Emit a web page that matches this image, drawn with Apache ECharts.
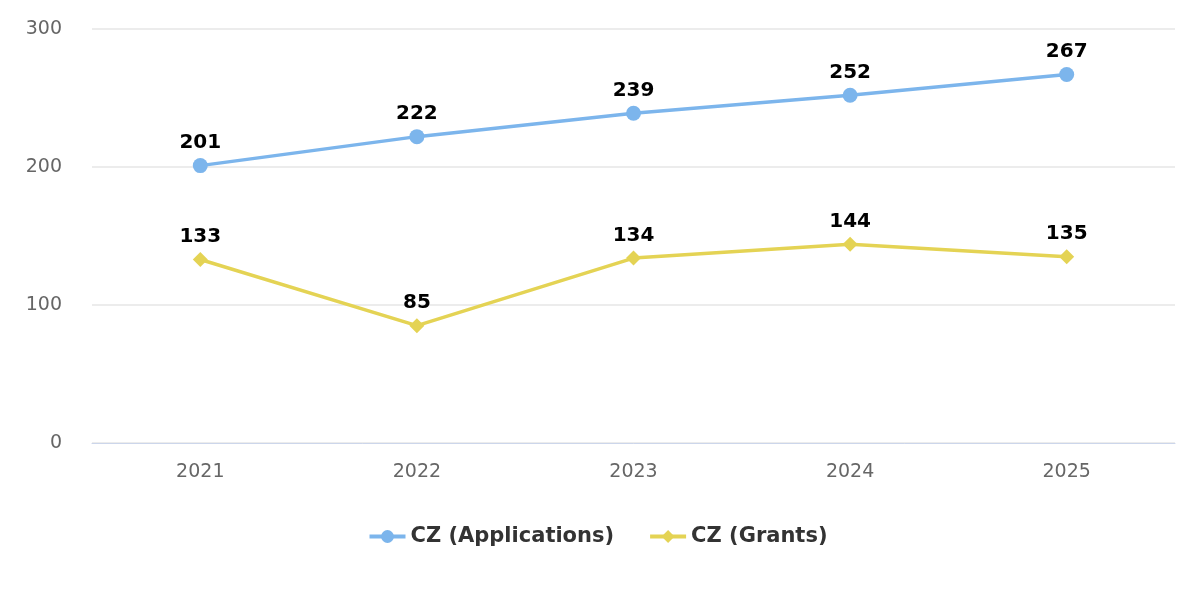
<!DOCTYPE html>
<html><head><meta charset="utf-8">
<script src="https://cdn.jsdelivr.net/npm/echarts@6/dist/echarts.min.js"></script>
<style>html,body{margin:0;padding:0;background:#fff}#c{width:1195px;height:592px}</style>
</head><body><div id="c"></div>
<script>
const categories = ['2021','2022','2023','2024','2025'];
const applications = [201,222,239,252,267];
const grants = [133,85,134,144,135];
const yTicks = [0,100,200,300];

const font = 'DejaVu Sans';
const chart = echarts.init(document.getElementById('c'));
chart.setOption({
  animation:false,
  backgroundColor:'#fff',
  grid:{left:92,right:20,top:29,bottom:149},
  legend:{
    bottom:40,left:'center',itemWidth:36,itemHeight:16,itemGap:34,
    lineStyle:{width:4},
    textStyle:{fontFamily:font,fontSize:21,fontWeight:'bold',color:'#333'},
    data:['CZ (Applications)','CZ (Grants)']
  },
  xAxis:{type:'category',data:categories,boundaryGap:true,
    axisLine:{lineStyle:{color:'#ccd6eb'}},axisTick:{show:false},
    axisLabel:{fontFamily:font,fontSize:19,color:'#666',margin:20}},
  yAxis:{type:'value',min:yTicks[0],max:yTicks[yTicks.length-1],interval:100,
    axisLabel:{fontFamily:font,fontSize:19,color:'#666',margin:30},
    splitLine:{lineStyle:{color:'#e6e6e6',width:1.5}},axisLine:{show:false},axisTick:{show:false}},
  series:[
    {name:'CZ (Applications)',type:'line',data:applications,color:'#7cb5ec',
     symbol:'circle',symbolSize:15,lineStyle:{width:3.5},
     label:{show:true,position:'top',distance:5,fontFamily:font,fontSize:20,fontWeight:'bold',color:'#000'}},
    {name:'CZ (Grants)',type:'line',data:grants,color:'#e4d354',
     symbol:'diamond',symbolSize:15,lineStyle:{width:3.5},
     label:{show:true,position:'top',distance:5,fontFamily:font,fontSize:20,fontWeight:'bold',color:'#000'}}
  ]
});
</script></body></html>
